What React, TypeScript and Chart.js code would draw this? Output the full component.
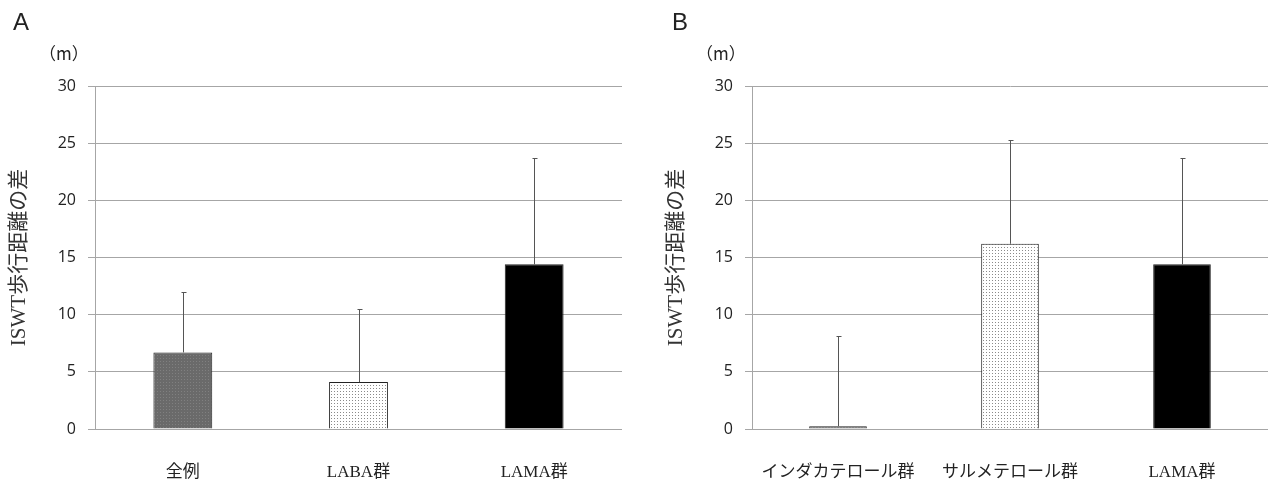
import React, { useEffect, useRef } from "react";
import { Chart, registerables } from "chart.js";

Chart.register(...registerables);

// ---- data ----
const categoriesA = ["全例", "LABA群", "LAMA群"];
const meansA = [6.7, 4.1, 14.4];
const errTopsA = [12.0, 10.5, 23.7];

const categoriesB = ["インダカテロール群", "サルメテロール群", "LAMA群"];
const meansB = [0.25, 16.2, 14.4];
const errTopsB = [8.1, 25.3, 23.7];

const yMin = 0;
const yMax = 30;
const yStep = 5;
const yTitle = "ISWT歩行距離の差";
const unitLabel = "（m）";
const panelLabels = ["A", "B"];

const serif = "'Liberation Serif', 'Noto Sans CJK JP', serif";
const cjk = "'Noto Sans CJK JP', sans-serif";

function makePattern(bg: string, dot: string, size: number) {
  const c = document.createElement("canvas");
  c.width = size;
  c.height = size;
  const g = c.getContext("2d")!;
  g.fillStyle = bg;
  g.fillRect(0, 0, size, size);
  g.fillStyle = dot;
  g.fillRect(1, 1, 1, 1);
  const ctx = document.createElement("canvas").getContext("2d")!;
  return ctx.createPattern(c, "repeat")!;
}

const errorBarPlugin = {
  id: "errorBars",
  afterDatasetsDraw(chart: any, _args: any, opts: any) {
    const tops: number[] = opts.tops || [];
    const meta = chart.getDatasetMeta(0);
    const y = chart.scales.y;
    const ctx = chart.ctx;
    ctx.save();
    ctx.strokeStyle = "#555";
    ctx.lineWidth = 1;
    meta.data.forEach((el: any, i: number) => {
      const x = Math.round(el.x) + 0.5;
      const y0 = el.y;
      const y1 = Math.round(y.getPixelForValue(tops[i])) + 0.5;
      ctx.beginPath();
      ctx.moveTo(x, y0);
      ctx.lineTo(x, y1);
      ctx.moveTo(x - 2, y1);
      ctx.lineTo(x + 3, y1);
      ctx.stroke();
    });
    ctx.restore();
  },
};

const labelsPlugin = {
  id: "panelText",
  afterDraw(chart: any, _args: any, opts: any) {
    const ctx = chart.ctx;
    ctx.save();
    ctx.fillStyle = "#222";
    ctx.textBaseline = "middle";
    ctx.textAlign = "left";
    ctx.font = "24px 'Liberation Sans', sans-serif";
    ctx.fillText(opts.panel, opts.panelX, 23);
    ctx.font = "17px " + cjk;
    ctx.fillText(unitLabel, opts.unitX, 54);
    ctx.restore();
  },
};

function BarPanel(props: {
  cats: string[];
  means: number[];
  tops: number[];
  colors: (p: any) => any[];
  left: number;
  padLeft: number;
  padRight: number;
  panel: string;
  panelX: number;
  unitX: number;
}) {
  const ref = useRef<HTMLCanvasElement>(null);
  useEffect(() => {
    const pats = {
      gray: makePattern("#6a6a6a", "#808080", 3),
      dots: makePattern("#ffffff", "#8a8a8a", 3),
      black: "#000000",
    };
    const chart = new Chart(ref.current!, {
      type: "bar",
      data: {
        labels: props.cats,
        datasets: [
          {
            data: props.means,
            backgroundColor: props.colors(pats),
            borderColor: "#222",
            borderWidth: 1,
            categoryPercentage: 1,
            barPercentage: 0.335,
          },
        ],
      },
      plugins: [errorBarPlugin, labelsPlugin],
      options: {
        animation: false,
        responsive: false,
        maintainAspectRatio: false,
        events: [],
        layout: {
          padding: { left: props.padLeft, right: props.padRight, top: 86, bottom: 0 },
        },
        plugins: {
          legend: { display: false },
          tooltip: { enabled: false },
          errorBars: { tops: props.tops },
          panelText: { panel: props.panel, panelX: props.panelX, unitX: props.unitX },
        } as any,
        scales: {
          x: {
            grid: { display: false, drawTicks: false },
            border: { display: false },
            ticks: {
              color: "#222",
              font: { family: serif, size: 17 },
              padding: 33,
              maxRotation: 0,
              autoSkip: false,
            },
            afterFit: (s: any) => {
              s.height = 52;
            },
          },
          y: {
            min: yMin,
            max: yMax,
            ticks: {
              stepSize: yStep,
              color: "#222",
              font: { family: "'Open Sans', sans-serif", size: 16 },
              padding: 12,
            },
            grid: { color: "#a6a6a6", lineWidth: 1, tickLength: 7 },
            border: { color: "#a6a6a6", width: 1 },
            title: {
              display: true,
              text: yTitle,
              color: "#333",
              font: { family: serif, size: 21, lineHeight: 1.2 },
              padding: { top: 7, bottom: 0 },
            },
            afterFit: (s: any) => {
              s.width = 95;
            },
          },
        },
      },
    });
    return () => chart.destroy();
  }, []);
  return (
    <canvas
      ref={ref}
      width={640}
      height={481}
      style={{ position: "absolute", left: props.left, top: 0, width: 640, height: 481 }}
    />
  );
}

export default function App() {
  return (
    <div
      style={{
        position: "fixed",
        left: 0,
        top: 0,
        width: 1280,
        height: 481,
        background: "#fff",
        overflow: "hidden",
      }}
    >
      <BarPanel
        cats={categoriesA}
        means={meansA}
        tops={errTopsA}
        colors={(p) => [p.gray, p.dots, p.black]}
        left={0}
        padLeft={0}
        padRight={18}
        panel={panelLabels[0]}
        panelX={13}
        unitX={39}
      />
      <BarPanel
        cats={categoriesB}
        means={meansB}
        tops={errTopsB}
        colors={(p) => [p.gray, p.dots, p.black]}
        left={640}
        padLeft={17}
        padRight={12}
        panel={panelLabels[1]}
        panelX={32}
        unitX={56}
      />
    </div>
  );
}
